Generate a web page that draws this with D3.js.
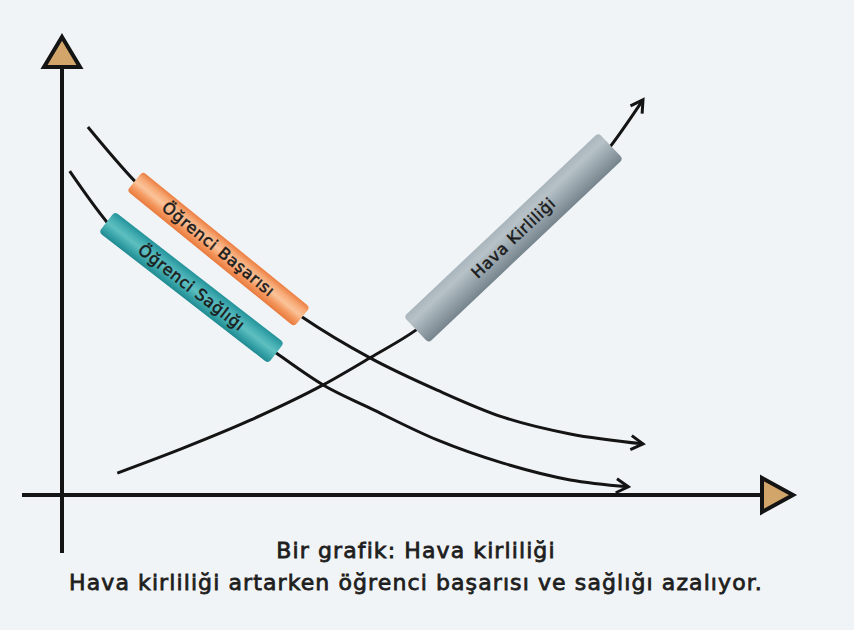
<!DOCTYPE html>
<html>
<head>
<meta charset="utf-8">
<script src="https://cdn.jsdelivr.net/npm/d3@7"></script>
<style>
  html, body { margin: 0; padding: 0; background: #f1f4f6; }
  svg { display: block; }
</style>
</head>
<body>
<svg id="chart" width="854" height="630"></svg>
<script>
// Series values (relative units, 0–100 on both axes)
const basariX   = [3.7, 10.4, 22.3, 34.3, 44.0, 53.6, 63.0, 72.6, 83.0];
const basariY   = [85.6, 73.0, 56.5, 41.4, 31.9, 24.4, 18.1, 14.2, 11.9];
const saglikX   = [1.1, 6.4, 18.3, 30.6, 37.3, 44.0, 53.6, 63.0, 72.6, 80.9];
const saglikY   = [75.3, 63.5, 47.4, 33.0, 25.6, 20.2, 12.8, 7.4, 3.5, 1.9];
const kirlilikX = [7.9, 17.3, 26.9, 37.3, 44.0, 50.6, 64.0, 78.4, 83.0];
const kirlilikY = [5.1, 10.9, 17.4, 25.6, 31.9, 38.4, 58.8, 81.2, 91.9];

// Series names and where along each curve its label band sits (x range)
const seriesNames = ["Öğrenci Başarısı", "Öğrenci Sağlığı", "Hava Kirliliği"];
const labelFrom   = [10.4, 6.4, 50.6];
const labelTo     = [34.3, 30.6, 78.4];

const captionLines = [
  "Bir grafik: Hava kirliliği",
  "Hava kirliliği artarken öğrenci başarısı ve sağlığı azalıyor."
];

const svg = d3.select("#chart");
const W = 854, H = 630;
svg.append("rect").attr("width", W).attr("height", H).attr("fill", "#f1f4f6");

const x = d3.scaleLinear().domain([0, 100]).range([62, 762]);
const y = d3.scaleLinear().domain([0, 100]).range([495, 65]);

const ink = "#141414";
const defs = svg.append("defs");

// open chevron arrowhead for the curves
defs.append("marker")
  .attr("id", "chev")
  .attr("viewBox", "0 0 18 18")
  .attr("refX", 15).attr("refY", 9)
  .attr("markerWidth", 18).attr("markerHeight", 18)
  .attr("markerUnits", "userSpaceOnUse")
  .attr("orient", "auto")
  .append("path")
  .attr("d", "M3,2 L15,9 L3,16")
  .attr("fill", "none").attr("stroke", ink)
  .attr("stroke-width", 3).attr("stroke-linejoin", "miter");

// cylinder-like shading for the label bands
const bandStyles = [
  { id: "gOrange", stops: ["#ec7e42", "#f7ab78", "#fbc39a", "#f4985f", "#e87a3d"] },
  { id: "gTeal",   stops: ["#23939a", "#43adb1", "#5fbfc0", "#3aa6ab", "#1f8a91"] },
  { id: "gGrey",   stops: ["#a9b5bc", "#b7c2c8", "#a2aeb5", "#8c99a1", "#76848d"] }
];
bandStyles.forEach(s => {
  const g = defs.append("linearGradient").attr("id", s.id)
    .attr("x1", 0).attr("y1", 0).attr("x2", 0).attr("y2", 1);
  s.stops.forEach((c, i) => g.append("stop")
    .attr("offset", i / (s.stops.length - 1)).attr("stop-color", c));
});
const bandThickness = [25, 26, 36];

// ---- axes ----
const axisG = svg.append("g");
const x0 = x(0), y0 = y(0);
axisG.append("line")
  .attr("x1", x0).attr("x2", x0)
  .attr("y1", y0 + 58).attr("y2", y(100))
  .attr("stroke", ink).attr("stroke-width", 4);
axisG.append("line")
  .attr("x1", x0 - 40).attr("x2", x(100))
  .attr("y1", y0).attr("y2", y0)
  .attr("stroke", ink).attr("stroke-width", 4);

const triFill = "#d2a66b";
const yTop = y(100);
axisG.append("path")
  .attr("d", `M${x0},${yTop - 28} L${x0 + 18},${yTop + 2} L${x0 - 18},${yTop + 2} Z`)
  .attr("fill", triFill).attr("stroke", ink).attr("stroke-width", 4)
  .attr("stroke-linejoin", "miter");
const xEnd = x(100);
axisG.append("path")
  .attr("d", `M${xEnd},${y0 - 17} L${xEnd + 31},${y0} L${xEnd},${y0 + 17} Z`)
  .attr("fill", triFill).attr("stroke", ink).attr("stroke-width", 4)
  .attr("stroke-linejoin", "miter");

// ---- curves ----
const series = [
  { xs: basariX, ys: basariY },
  { xs: saglikX, ys: saglikY },
  { xs: kirlilikX, ys: kirlilikY }
];
const line = d3.line()
  .x(d => x(d[0])).y(d => y(d[1]))
  .curve(d3.curveMonotoneX);

series.forEach(s => {
  const pts = s.xs.map((v, i) => [v, s.ys[i]]);
  svg.append("path")
    .datum(pts)
    .attr("d", line)
    .attr("fill", "none")
    .attr("stroke", ink)
    .attr("stroke-width", 3)
    .attr("marker-end", "url(#chev)");
});

// ---- label bands laid along each curve ----
function valueAt(s, xv) {
  return d3.scaleLinear().domain(s.xs).range(s.ys)(xv);
}
series.forEach((s, i) => {
  const p1 = [x(labelFrom[i]), y(valueAt(s, labelFrom[i]))];
  const p2 = [x(labelTo[i]), y(valueAt(s, labelTo[i]))];
  const len = Math.hypot(p2[0] - p1[0], p2[1] - p1[1]);
  const ang = Math.atan2(p2[1] - p1[1], p2[0] - p1[0]) * 180 / Math.PI;
  const cx = (p1[0] + p2[0]) / 2, cy = (p1[1] + p2[1]) / 2;
  const t = bandThickness[i];
  const g = svg.append("g").attr("transform", `translate(${cx},${cy}) rotate(${ang})`);
  g.append("rect")
    .attr("x", -len / 2).attr("y", -t / 2)
    .attr("width", len).attr("height", t)
    .attr("rx", 4).attr("ry", 4)
    .attr("fill", `url(#${bandStyles[i].id})`);
  g.append("text")
    .attr("x", 0).attr("y", 0)
    .attr("text-anchor", "middle")
    .attr("dominant-baseline", "central")
    .attr("font-family", "'DejaVu Sans', sans-serif")
    .attr("font-size", 16)
    .attr("letter-spacing", 0.6)
    .attr("fill", "#1c1c1c")
    .attr("stroke", "#1c1c1c")
    .attr("stroke-width", 0.5)
    .text(seriesNames[i]);
});

// ---- caption ----
const cap = svg.append("g")
  .attr("font-family", "'DejaVu Sans', sans-serif")
  .attr("fill", "#1e1e1e")
  .attr("stroke", "#1e1e1e")
  .attr("stroke-width", 0.8)
  .attr("letter-spacing", 1.1)
  .attr("text-anchor", "middle");
cap.append("text").attr("x", 416).attr("y", 558).attr("font-size", 22).text(captionLines[0]);
cap.append("text").attr("x", 416).attr("y", 590).attr("font-size", 22).text(captionLines[1]);
</script>
</body>
</html>
